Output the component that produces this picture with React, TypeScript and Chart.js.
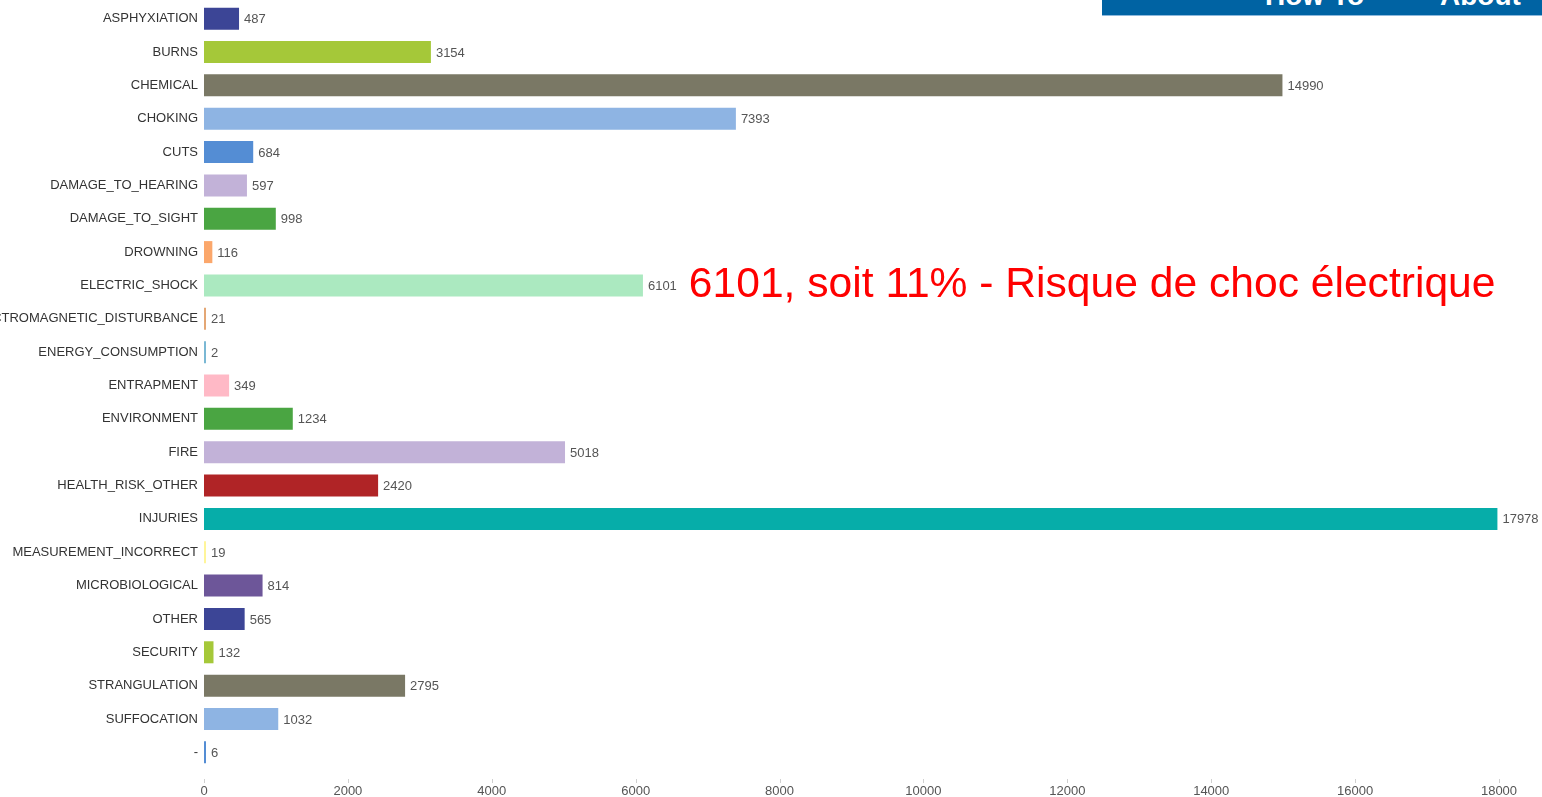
import React, { useEffect, useRef } from "react";
import { Chart, registerables } from "chart.js";

Chart.register(...registerables);

const categories = [
  "ASPHYXIATION",
  "BURNS",
  "CHEMICAL",
  "CHOKING",
  "CUTS",
  "DAMAGE_TO_HEARING",
  "DAMAGE_TO_SIGHT",
  "DROWNING",
  "ELECTRIC_SHOCK",
  "ELECTROMAGNETIC_DISTURBANCE",
  "ENERGY_CONSUMPTION",
  "ENTRAPMENT",
  "ENVIRONMENT",
  "FIRE",
  "HEALTH_RISK_OTHER",
  "INJURIES",
  "MEASUREMENT_INCORRECT",
  "MICROBIOLOGICAL",
  "OTHER",
  "SECURITY",
  "STRANGULATION",
  "SUFFOCATION",
  "-",
];

const values = [
  487, 3154, 14990, 7393, 684, 597, 998, 116, 6101, 21, 2, 349, 1234, 5018,
  2420, 17978, 19, 814, 565, 132, 2795, 1032, 6,
];

const barColors = [
  "#3c4596",
  "#a5c839",
  "#7a7865",
  "#8eb4e3",
  "#548dd4",
  "#c2b2d8",
  "#4aa542",
  "#fba76b",
  "#abe9c0",
  "#e4a775",
  "#7ab8d4",
  "#ffb9c6",
  "#4aa542",
  "#c2b2d8",
  "#b02426",
  "#06ada9",
  "#fff59a",
  "#6d5699",
  "#3c4596",
  "#a5c839",
  "#7a7865",
  "#8eb4e3",
  "#548dd4",
];

const xTickValues = [0, 2000, 4000, 6000, 8000, 10000, 12000, 14000, 16000, 18000];

const annotationCategory = "ELECTRIC_SHOCK";
const annotationText = "6101, soit 11% - Risque de choc électrique";

const menuItems = ["How To", "About"];

const FONT = "'Liberation Sans', Arial, Helvetica, sans-serif";

const valueLabelPlugin = {
  id: "valueLabels",
  afterDatasetsDraw(chart: any) {
    const ctx = chart.ctx;
    const meta = chart.getDatasetMeta(0);
    ctx.save();
    ctx.font = `13px ${FONT}`;
    ctx.fillStyle = "#555555";
    ctx.textAlign = "left";
    ctx.textBaseline = "middle";
    meta.data.forEach((bar: any, i: number) => {
      ctx.fillText(String(values[i]), bar.x + 5, bar.y + 1);
    });
    const ai = categories.indexOf(annotationCategory);
    if (ai >= 0) {
      const bar: any = meta.data[ai];
      const w = ctx.measureText(String(values[ai])).width;
      ctx.font = `42.6px ${FONT}`;
      ctx.fillStyle = "#ff0000";
      ctx.textBaseline = "alphabetic";
      ctx.fillText(annotationText, bar.x + 5 + w + 12, bar.y + 12);
    }
    ctx.restore();
  },
  afterDraw(chart: any) {
    const ctx = chart.ctx;
    const xs = chart.scales.x;
    const bottom = chart.chartArea.bottom;
    ctx.save();
    ctx.strokeStyle = "#d0d0d0";
    ctx.lineWidth = 1;
    xTickValues.forEach((v) => {
      const x = Math.round(xs.getPixelForValue(v)) + 0.5;
      ctx.beginPath();
      ctx.moveTo(x, bottom + 10);
      ctx.lineTo(x, bottom + 14);
      ctx.stroke();
    });
    ctx.restore();
  },
};

function BarChart() {
  const ref = useRef<HTMLCanvasElement | null>(null);
  useEffect(() => {
    if (!ref.current) return;
    const chart = new Chart(ref.current, {
      type: "bar",
      data: {
        labels: categories,
        datasets: [
          {
            data: values,
            backgroundColor: barColors,
            borderWidth: 0,
            categoryPercentage: 1,
            barPercentage: 0.66,
            minBarLength: 2,
          },
        ],
      },
      options: {
        indexAxis: "y",
        responsive: false,
        animation: false,
        layout: { padding: { top: 2, right: 43, bottom: 0, left: 0 } },
        plugins: {
          legend: { display: false },
          tooltip: { enabled: false },
        },
        scales: {
          x: {
            type: "linear",
            min: 0,
            max: 18000,
            afterBuildTicks: (scale: any) => {
              scale.ticks = xTickValues.map((v) => ({ value: v }));
            },
            afterFit: (scale: any) => {
              scale.height = 28;
            },
            grid: { display: false, drawTicks: false },
            border: { display: false },
            ticks: {
              padding: 15,
              color: "#555555",
              font: { family: FONT, size: 13 },
              maxRotation: 0,
              autoSkip: false,
              callback: (v: any) => String(v),
            },
          },
          y: {
            type: "category",
            afterFit: (scale: any) => {
              scale.width = 204;
              scale.paddingTop = 0;
              scale.paddingBottom = 0;
            },
            grid: { display: false, drawTicks: false },
            border: { display: false },
            ticks: {
              padding: 6,
              color: "#333333",
              font: { family: FONT, size: 13 },
              autoSkip: false,
            },
          },
        },
      } as any,
      plugins: [valueLabelPlugin],
    });
    return () => chart.destroy();
  }, []);
  return <canvas ref={ref} width={1542} height={797} style={{ display: "block" }} />;
}

export default function App() {
  return (
    <div
      style={{
        position: "absolute",
        left: 0,
        top: 0,
        width: 1542,
        height: 797,
        overflow: "hidden",
        background: "#ffffff",
      }}
    >
      <BarChart />
      <div
        style={{
          position: "absolute",
          left: 1102,
          top: 0,
          width: 440,
          height: 15,
          background: "#0063a3",
          borderBottom: "1px solid #8db8dc",
          overflow: "hidden",
        }}
      >
        {menuItems.map((m, i) => (
          <span
            key={m}
            style={{
              position: "absolute",
              left: i === 0 ? 163 : 338,
              top: -18,
              fontFamily: FONT,
              fontWeight: "bold",
              fontSize: 28,
              lineHeight: "28px",
              color: "#ffffff",
              whiteSpace: "nowrap",
            }}
          >
            {m}
          </span>
        ))}
      </div>
    </div>
  );
}
